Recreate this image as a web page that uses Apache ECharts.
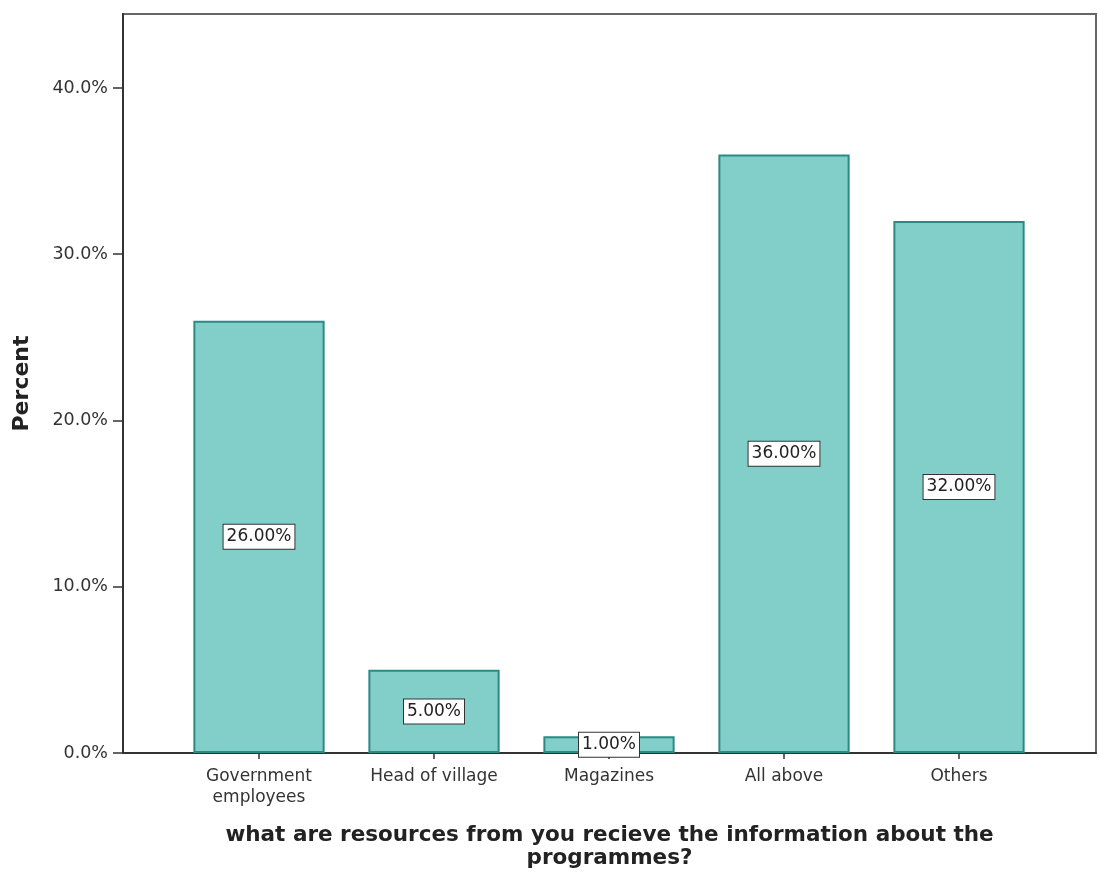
<!DOCTYPE html>
<html>
<head>
<meta charset="utf-8">
<script src="https://cdn.jsdelivr.net/npm/echarts@6/dist/echarts.min.js"></script>
<style>
  html, body { margin: 0; padding: 0; background: #fff; }
  #chart { width: 1100px; height: 883px; }
</style>
</head>
<body>
<div id="chart"></div>
<script>
// Sources of programme information (percent of respondents)
const categories = ['Government\nemployees', 'Head of village', 'Magazines', 'All above', 'Others'];
const percents = [26, 5, 1, 36, 32];
const yTicks = [0, 10, 20, 30, 40];

const FONT = '"DejaVu Sans", Verdana, sans-serif';
const Y_MAX = 44.45;

const chart = echarts.init(document.getElementById('chart'));
chart.setOption({
  animation: false,
  backgroundColor: '#fff',
  grid: [
    // frame grid carrying the percent axis
    { left: 123, right: 4, top: 14, bottom: 130, show: true, borderColor: '#666', borderWidth: 2, backgroundColor: 'transparent' },
    // inner grid holding the bars
    { left: 171.5, right: 53.5, top: 14, bottom: 130 }
  ],
  xAxis: [
    {
      gridIndex: 0, type: 'category', data: [''],
      axisLine: { show: true, lineStyle: { color: '#333', width: 2 } },
      axisTick: { show: false }, axisLabel: { show: false },
      name: 'what are resources from you recieve the information about the\nprogrammes?',
      nameLocation: 'middle', nameGap: 71,
      nameTextStyle: { fontFamily: FONT, fontWeight: 'bold', fontSize: 21.5, color: '#222', lineHeight: 23 }
    },
    {
      gridIndex: 1, type: 'category', data: categories,
      axisLine: { show: false },
      axisTick: { show: true, alignWithLabel: true, length: 6, lineStyle: { color: '#333', width: 1.5 } },
      axisLabel: { fontFamily: FONT, fontSize: 17, color: '#333', lineHeight: 21, margin: 13 }
    }
  ],
  yAxis: [
    {
      gridIndex: 0, type: 'value', min: 0, max: Y_MAX, interval: 10,
      axisLine: { show: true, lineStyle: { color: '#333', width: 2 } },
      axisTick: { show: true, length: 10, customValues: yTicks, lineStyle: { color: '#333', width: 1.5 } },
      splitLine: { show: false },
      axisLabel: {
        fontFamily: FONT, fontSize: 17.5, color: '#333', margin: 15,
        customValues: yTicks,
        formatter: v => v.toFixed(1) + '%'
      },
      name: 'Percent', nameLocation: 'middle', nameGap: 90,
      nameTextStyle: { fontFamily: FONT, fontWeight: 'bold', fontSize: 22, color: '#222' }
    },
    {
      gridIndex: 1, type: 'value', min: 0, max: Y_MAX, show: false, splitLine: { show: false }
    }
  ],
  series: [{
    type: 'bar', xAxisIndex: 1, yAxisIndex: 1,
    data: percents,
    barCategoryGap: '25%',
    itemStyle: { color: '#82cfca', borderColor: '#2b8a83', borderWidth: 2 },
    label: {
      show: true, position: 'inside',
      formatter: p => p.value.toFixed(2) + '%',
      fontFamily: FONT, fontSize: 17, color: '#222',
      backgroundColor: '#fff', borderColor: '#333', borderWidth: 1,
      padding: [4, 3, 3, 3]
    }
  }]
});
</script>
</body>
</html>
